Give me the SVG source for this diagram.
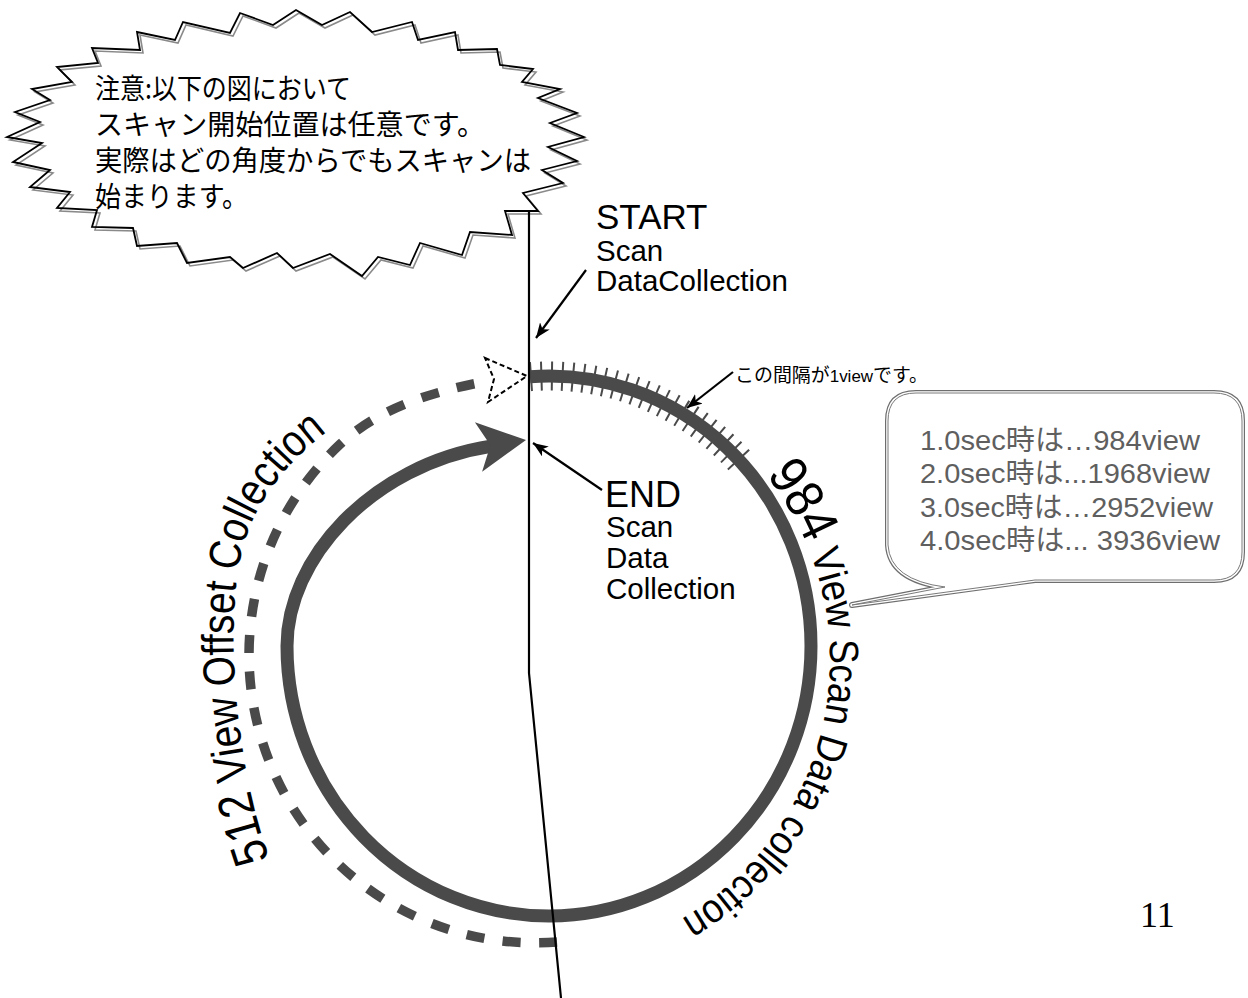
<svg xmlns="http://www.w3.org/2000/svg" width="1248" height="998" viewBox="0 0 1248 998">
<style>
.sans{font-family:"Liberation Sans","Noto Sans CJK JP",sans-serif;fill:#000}
.jp{font-family:"Noto Sans CJK JP",sans-serif;fill:#000}
.band{fill:none;stroke:#4a4a4a;stroke-width:13}
.conn{fill:none;stroke:#000;stroke-width:2.2}
.bub{font-family:"Liberation Sans","Noto Sans CJK JP",sans-serif;fill:#5f5f5f;font-size:28px}
</style>
<defs>
<marker id="ah" markerUnits="userSpaceOnUse" markerWidth="16" markerHeight="12" refX="15" refY="6" orient="auto">
<path d="M0,0 L15,6 L0,12 L4,6 z" fill="#000"/>
</marker>
<path id="leftPath" d="M 280 885 C 238 790 224 640 240 560 C 252 500 292 452 356 412"/>
<path id="rightPath" d="M 759.8 467.2 A 300 300 0 0 1 582.1 955.4"/>
</defs>

<g id="note-burst">
<polygon fill="#fff" stroke="none" points="7,137 40,122 15,112 50,100 32,89 72,82 57,67 98,63 92,48 140,50 137,32 175,40 183,22 230,33 240,13 273,25 296,10 322,25 350,12 372,32 412,22 418,40 455,32 458,50 497,49 500,65 533,69 522,82 560,89 538,98 577,113 550,123 584,137 548,147 577,161 542,170 563,183 523,193 538,211 505,211 512,235 470,232 462,255 420,243 410,265 378,257 362,276 330,254 293,268 277,253 243,268 230,257 187,263 177,243 137,246 133,228 92,227 97,210 57,208 70,192 30,187 50,170 13,162 42,143"/>
<polygon fill="none" stroke="#8a8a8a" stroke-width="1.6" transform="translate(3,3)" points="7,137 40,122 15,112 50,100 32,89 72,82 57,67 98,63 92,48 140,50 137,32 175,40 183,22 230,33 240,13 273,25 296,10 322,25 350,12 372,32 412,22 418,40 455,32 458,50 497,49 500,65 533,69 522,82 560,89 538,98 577,113 550,123 584,137 548,147 577,161 542,170 563,183 523,193 538,211 505,211 512,235 470,232 462,255 420,243 410,265 378,257 362,276 330,254 293,268 277,253 243,268 230,257 187,263 177,243 137,246 133,228 92,227 97,210 57,208 70,192 30,187 50,170 13,162 42,143"/>
<polygon fill="none" stroke="#000" stroke-width="1.8" points="7,137 40,122 15,112 50,100 32,89 72,82 57,67 98,63 92,48 140,50 137,32 175,40 183,22 230,33 240,13 273,25 296,10 322,25 350,12 372,32 412,22 418,40 455,32 458,50 497,49 500,65 533,69 522,82 560,89 538,98 577,113 550,123 584,137 548,147 577,161 542,170 563,183 523,193 538,211 505,211 512,235 470,232 462,255 420,243 410,265 378,257 362,276 330,254 293,268 277,253 243,268 230,257 187,263 177,243 137,246 133,228 92,227 97,210 57,208 70,192 30,187 50,170 13,162 42,143"/>
<text class="jp" font-size="28" x="95" y="99" textLength="256" lengthAdjust="spacingAndGlyphs">注意:以下の図において</text>
<text class="jp" font-size="28" x="95" y="135" textLength="390" lengthAdjust="spacingAndGlyphs">スキャン開始位置は任意です。</text>
<text class="jp" font-size="28" x="95" y="171" textLength="436" lengthAdjust="spacingAndGlyphs">実際はどの角度からでもスキャンは</text>
<text class="jp" font-size="28" x="95" y="207" textLength="153" lengthAdjust="spacingAndGlyphs">始まります。</text>
</g>

<g id="offset-arc">
<path d="M 557 942 A 286 288 0 0 1 249 655 A 286 288 0 0 1 340 444.3 C 376.5 410 428 393 478 383" fill="none" stroke="#4a4a4a" stroke-width="9.5" stroke-dasharray="18 18.5"/>
<polygon points="485,358 527,376 488,402 494,379" fill="#fff" stroke="#000" stroke-width="2" stroke-dasharray="5 3"/>
</g>

<g id="scan-arc">
<path d="M 530 376.7 A 262 270 0 0 1 740 461.3" fill="none" stroke="#4a4a4a" stroke-width="29" stroke-dasharray="2 8.5"/>
<path class="band" d="M 530 376.7 A 262 270 0 0 1 811 646 A 262 270 0 0 1 549 916 A 262 270 0 0 1 287 646 C 287 560 370 465 492 446"/>
<polygon points="526,440 474.9,422.3 490.4,445.2 482.1,471.7" fill="#4a4a4a"/>
</g>

<g id="arc-labels">
<text class="sans" font-size="45"><textPath href="#leftPath" startOffset="28" textLength="462" lengthAdjust="spacingAndGlyphs"><tspan font-size="50">512</tspan> View Offset Collection</textPath></text>
<text class="sans" font-size="41"><textPath href="#rightPath" startOffset="10" textLength="512" lengthAdjust="spacingAndGlyphs"><tspan font-size="54">984</tspan> View Scan Data collection</textPath></text>
</g>

<g id="start-label">
<text class="sans" font-size="35" x="596" y="229">START</text>
<text class="sans" font-size="29.5" x="596" y="261">Scan</text>
<text class="sans" font-size="29.5" x="596" y="291">DataCollection</text>
</g>

<g id="end-label">
<text class="sans" font-size="36" x="605" y="507">END</text>
<text class="sans" font-size="29.5" x="606" y="537">Scan</text>
<text class="sans" font-size="29.5" x="606" y="568">Data</text>
<text class="sans" font-size="29.5" x="606" y="599">Collection</text>
</g>

<g id="view-note">
<text class="sans" font-size="19" x="735" y="382" textLength="193" lengthAdjust="spacingAndGlyphs">この間隔が<tspan font-size="17">1view</tspan>です。</text>
</g>

<g id="rate-bubble">
<path d="M 916 393 H 1214 Q 1242 393 1242 421 V 552 Q 1242 580 1214 580 H 1035 L 852 605 L 945 587 Q 890 580 888 545 V 421 Q 888 393 916 393 Z" fill="#fff" stroke="#6e6e6e" stroke-width="6" stroke-linejoin="round"/>
<path d="M 916 393 H 1214 Q 1242 393 1242 421 V 552 Q 1242 580 1214 580 H 1035 L 852 605 L 945 587 Q 890 580 888 545 V 421 Q 888 393 916 393 Z" fill="#fff" stroke="#fff" stroke-width="3.6" stroke-linejoin="round"/>
<path d="M 916 393 H 1214 Q 1242 393 1242 421 V 552 Q 1242 580 1214 580 H 1035 L 852 605 L 945 587 Q 890 580 888 545 V 421 Q 888 393 916 393 Z" fill="#fff" stroke="#7a7a7a" stroke-width="1" stroke-linejoin="round"/>
<text class="bub" x="920" y="450" textLength="280" lengthAdjust="spacingAndGlyphs">1.0sec時は…984view</text>
<text class="bub" x="920" y="483" textLength="290" lengthAdjust="spacingAndGlyphs">2.0sec時は...1968view</text>
<text class="bub" x="920" y="517" textLength="293" lengthAdjust="spacingAndGlyphs">3.0sec時は…2952view</text>
<text class="bub" x="920" y="550" textLength="300" lengthAdjust="spacingAndGlyphs">4.0sec時は... 3936view</text>
</g>

<g id="page-number">
<text x="1140" y="927" font-family="Liberation Serif, serif" font-size="36">11</text>
</g>

<g id="connectors">
<path class="conn" d="M 529 210 L 529 673 L 561 998"/>
<line class="conn" x1="586" y1="270" x2="536" y2="338" marker-end="url(#ah)"/>
<line class="conn" x1="602" y1="490" x2="533" y2="443" marker-end="url(#ah)"/>
<line class="conn" x1="733" y1="372" x2="687" y2="408" marker-end="url(#ah)"/>
</g>
</svg>
